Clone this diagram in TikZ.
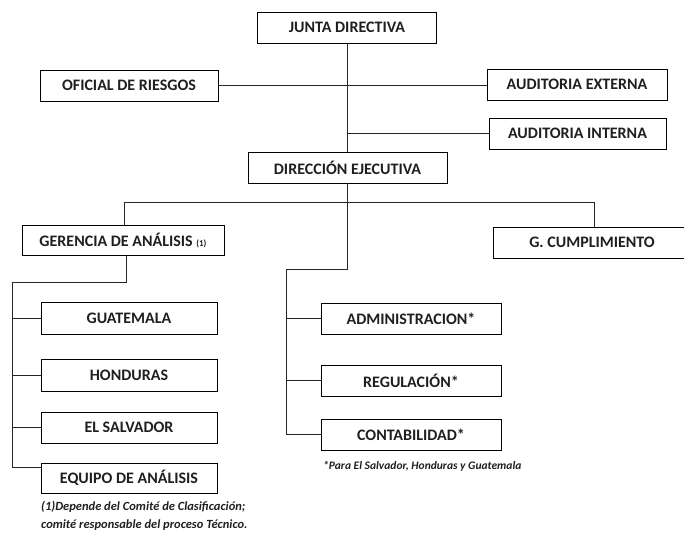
\documentclass[tikz,border=0pt]{standalone}
\usepackage{fontspec}
\setmainfont{Carlito}
\begin{document}
\begin{tikzpicture}[x=1pt,y=-1pt,
  box/.style={draw=black, line width=0.8pt, rectangle, inner sep=0pt, align=center,
    font=\fontsize{16}{18}\selectfont\bfseries, text=black!88},
  conn/.style={draw=black!85, line width=0.8pt},
  note/.style={inner sep=0pt, anchor=west, font=\fontsize{11.5}{13}\selectfont\bfseries\itshape, text=black!88}]
\useasboundingbox (0,0) rectangle (684,534);
\node[box, minimum width=179pt, minimum height=31pt] (JD) at (347,27.5) {JUNTA DIRECTIVA};
\node[box, minimum width=178pt, minimum height=31pt] (OF) at (129,85.5) {OFICIAL DE RIESGOS};
\node[box, minimum width=180pt, minimum height=31pt] (EX) at (577,84.5) {AUDITORIA EXTERNA};
\node[box, minimum width=177pt, minimum height=31pt] (IN) at (577.5,133.5) {AUDITORIA INTERNA};
\node[box, minimum width=199pt, minimum height=31pt] (DE) at (347.5,167.5) {DIRECCIÓN EJECUTIVA};
\node[box, minimum width=202pt, minimum height=30pt] (GA) at (123,240.5) {GERENCIA DE ANÁLISIS {\fontsize{9}{10}\selectfont (1)}};
\node[box, minimum width=198pt, minimum height=31pt] (GC) at (592,242.5) {G. CUMPLIMIENTO};
\node[box, minimum width=176pt, minimum height=32pt] (GU) at (129,318) {GUATEMALA};
\node[box, minimum width=176pt, minimum height=32pt] (HO) at (129,375.5) {HONDURAS};
\node[box, minimum width=176pt, minimum height=31pt] (ES) at (129,427.5) {EL SALVADOR};
\node[box, minimum width=176pt, minimum height=30pt] (EQ) at (129,478) {EQUIPO DE ANÁLISIS};
\node[box, minimum width=180pt, minimum height=31pt] (AD) at (411,318.5) {ADMINISTRACION*};
\node[box, minimum width=180pt, minimum height=31pt] (RE) at (411,380.5) {REGULACIÓN*};
\node[box, minimum width=180pt, minimum height=31pt] (CO) at (411,434.5) {CONTABILIDAD*};
\node[note] (n1) at (323,466) {*Para El Salvador, Honduras y Guatemala};
\node[note, align=left, font=\fontsize{12.5}{18}\selectfont\bfseries\itshape] (n2) at (41,516) {(1)Depende del Comité de Clasificación;\\comité responsable del proceso Técnico.};
% top connectors
\draw[conn] (JD.south) -- (JD.south |- DE.north);
\draw[conn] (OF.east) -- (OF.east -| EX.west);
\draw[conn] (JD.south |- IN.west) -- (IN.west);
% bus under direccion
\coordinate (busL) at (124,202);
\coordinate (busR) at (594,202);
\coordinate (dr) at (347,269);
\coordinate (rs) at (286,269);
\draw[conn] (busL |- GA.north) -- (busL) -- (busR) -- (busR |- GC.north);
\draw[conn] (DE.south -| dr) -- (dr) -- (rs) -- (rs |- CO.west) -- (CO.west);
\draw[conn] (rs |- AD.west) -- (AD.west);
\draw[conn] (rs |- RE.west) -- (RE.west);
% left tree
\coordinate (gb) at (126,282);
\coordinate (ls) at (12,282);
\coordinate (eqj) at ([yshift=11pt]EQ.west);
\draw[conn] (gb |- GA.south) -- (gb) -- (ls) -- (ls |- eqj) -- (eqj);
\draw[conn] (ls |- GU.west) -- (GU.west);
\draw[conn] (ls |- HO.west) -- (HO.west);
\draw[conn] (ls |- ES.west) -- (ES.west);
\end{tikzpicture}
\end{document}
